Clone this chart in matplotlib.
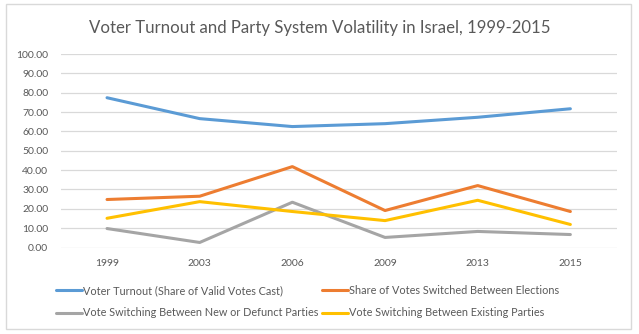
import matplotlib
matplotlib.use('Agg')
import matplotlib.pyplot as plt
from matplotlib.patches import Rectangle

years = ['1999', '2003', '2006', '2009', '2013', '2015']
turnout = [77.4, 66.6, 62.5, 64.0, 67.3, 71.7]
switched_total = [24.8, 26.5, 41.8, 19.1, 32.0, 18.6]
switched_new_defunct = [9.8, 2.6, 23.4, 5.2, 8.3, 6.7]
switched_existing = [15.1, 23.7, 18.6, 13.9, 24.4, 11.9]

labels = [
    'Voter Turnout (Share of Valid Votes Cast)',
    'Share of Votes Switched Between Elections',
    'Vote Switching Between New or Defunct Parties',
    'Vote Switching Between Existing Parties',
]
colors = ['#5B9BD5', '#ED7D31', '#A5A5A5', '#FFC000']
yticks = [0, 10, 20, 30, 40, 50, 60, 70, 80, 90, 100]

plt.rcParams['font.family'] = ['Lato', 'DejaVu Sans']
TXT = '#595959'
W, H = 639, 334

fig = plt.figure(figsize=(W / 100, H / 100), dpi=100)
ax = fig.add_axes([60.7 / W, 1 - 247.5 / H, 556 / W, (247.5 - 54) / H])

x = list(range(len(years)))
series = [turnout, switched_total, switched_new_defunct, switched_existing]
handles = []
for vals, lab, col in zip(series, labels, colors):
    h, = ax.plot(x, vals, color=col, lw=2.2, solid_capstyle='round',
                 solid_joinstyle='round', label=lab, zorder=3)
    handles.append(h)

ax.set_xlim(-0.5, len(years) - 0.5)
ax.set_ylim(0, 100)
ax.set_yticks(yticks)
ax.set_yticklabels([f'{v:.2f}' for v in yticks])
ax.set_xticks(x)
ax.set_xticklabels(years)
ax.tick_params(axis='both', length=0, labelsize=7.5, colors=TXT)
ax.tick_params(axis='y', pad=8.9)
ax.tick_params(axis='x', pad=8.1)
ax.grid(axis='y', color='#D9D9D9', lw=0.9)
ax.set_axisbelow(True)
for s in ax.spines.values():
    s.set_visible(False)

fig.text(0.5, 1 - 32.7 / H, 'Voter Turnout and Party System Volatility in Israel, 1999-2015',
         ha='center', va='baseline', fontsize=12.1, color=TXT)

# legend order fills column-wise: blue/gray on the left, orange/yellow on the right
order = [0, 2, 1, 3]
fig.legend([handles[i] for i in order], [labels[i] for i in order],
           ncol=2, loc='center left', bbox_to_anchor=(50.4 / W, 1 - 301.7 / H),
           frameon=False, fontsize=7.85, labelcolor=TXT,
           handlelength=2.38, handletextpad=0.1, columnspacing=0.37,
           labelspacing=1.05, borderpad=0)

fig.patches.append(Rectangle((6 / W, 5 / H), 625 / W, 325 / H, transform=fig.transFigure,
                             fill=False, edgecolor='#D9D9D9', lw=1))

fig.savefig('out.png', dpi=100)
